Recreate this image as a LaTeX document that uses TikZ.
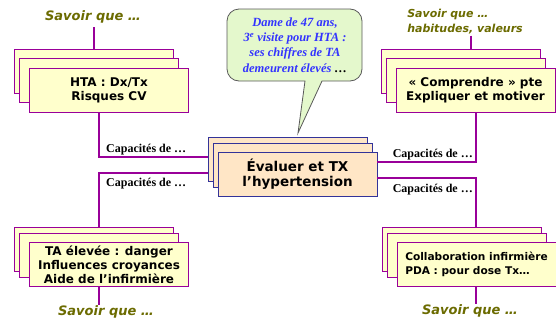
\documentclass[tikz,border=0pt]{standalone}
\usepackage{fontspec}
\setmainfont{Liberation Serif}
\newfontfamily\sansbox{DejaVu Sans}

\definecolor{lienviolet}{HTML}{990099}
\definecolor{fondjaune}{HTML}{FFFFCC}
\definecolor{fondpeche}{HTML}{FFE6C6}
\definecolor{bordbleu}{HTML}{333399}
\definecolor{texteolive}{HTML}{6B6B00}
\definecolor{fondbulle}{HTML}{E4F8CC}
\definecolor{textebleu}{HTML}{3333FF}

\tikzset{
  lien/.style={lienviolet, line width=2.2pt},
  pile/.style={draw=lienviolet, fill=fondjaune, line width=0.9pt,
    minimum width=159pt, minimum height=44pt, inner sep=2pt},
  pilecentre/.style={pile, draw=bordbleu, fill=fondpeche},
  boxtxt/.style={font=\sansbox\bfseries\fontsize{12}{14}\selectfont, align=center},
  savoir/.style={font=\sansbox\bfseries\itshape\fontsize{13}{15}\selectfont,
    text=texteolive, inner sep=1pt},
  capa/.style={font=\bfseries\fontsize{12}{13}\selectfont, inner sep=1pt},
}

\begin{document}
\begin{tikzpicture}[x=1pt, y=-1pt]
    \useasboundingbox (0,0) rectangle (556,322);

    % piles de fiches : deux fiches derriere chaque fiche de texte
    \foreach \nm/\cx/\cy/\ya/\yb in {hta/109/90.5/19/10, ta/109/264.5/15/9,
        comp/475.5/90.5/19/10, collab/476.5/264.5/15/9} {
        \node[pile] (\nm-3) at (\cx-15, \cy-\ya) {};
        \node[pile] (\nm-2) at (\cx-10, \cy-\yb) {};
    }
    \node[pile, boxtxt] (hta) at (109,90.5) {HTA : Dx/Tx\\Risques CV};
    \node[pile, boxtxt] (ta) at (109,264.5)
        {TA élevée : danger\\Influences croyances\\Aide de l’infirmière};
    \node[pile, boxtxt] (comp) at (475.5,90.5)
        {« Comprendre » pte\\Expliquer et motiver};
    \node[pile, boxtxt, align=left, font=\sansbox\bfseries\fontsize{10.6}{14}\selectfont]
        (collab) at (476.5,264.5) {Collaboration infirmière\\PDA : pour dose Tx…};

    % pile du centre
    \node[pilecentre] (eval-3) at (287.5,159.5) {};
    \node[pilecentre] (eval-2) at (292.5,165.5) {};
    \node[pilecentre, boxtxt, font=\sansbox\bfseries\fontsize{13.5}{15}\selectfont]
        (eval) at (297.5,174.5) {Évaluer et TX\\l’hypertension};

    % bulle
    \filldraw[draw=gray!70!black, fill=fondbulle, line width=0.8pt]
        (305,81) -- (298,133) -- (322,81) [rounded corners=12pt] -- (362,81)
        -- (362,9) -- (227,9) -- (227,81) [sharp corners] -- cycle;
    \node[font=\bfseries\itshape\fontsize{12.5}{15.3}\selectfont, text=textebleu,
        align=center] (bulle) at (295,45)
        {Dame de 47 ans,\\3\textsuperscript{e} visite pour HTA :\\ses chiffres de TA\\demeurent élevés \textcolor{black}{…}};

    % liens vers le centre
    \coordinate (g1) at (99,157);
    \coordinate (g2) at (99,173);
    \coordinate (d1) at (476,162);
    \coordinate (d2) at (476,178);
    \draw[lien] (hta.south -| g1) |- (eval-3.west |- g1);
    \draw[lien] (ta-3.north -| g2) |- (eval-3.west |- g2);
    \draw[lien] (comp.south -| d1) |- (eval.east |- d1);
    \draw[lien] (collab-3.north -| d2) |- (eval.east |- d2);

    \node[capa, anchor=base west] (c1) at ([shift={(6,-4.5)}]g1) {Capacités de …};
    \node[capa, anchor=base west] (c2) at ([shift={(6,13.5)}]g2) {Capacités de …};
    \node[capa, anchor=base east] (c3) at ([shift={(-2,-4.5)}]d1) {Capacités de …};
    \node[capa, anchor=base east] (c4) at ([shift={(-2,14.5)}]d2) {Capacités de …};

    % savoir que ...
    \node[savoir] (sv1) at (93,17) {Savoir que …};
    \node[savoir, align=left, font=\sansbox\bfseries\itshape\fontsize{11}{15}\selectfont]
        (sv2) at (465,22) {Savoir que …\\habitudes, valeurs};
    \node[savoir] (sv3) at (106,312) {Savoir que …};
    \node[savoir] (sv4) at (470,311) {Savoir que …};

    \draw[lien] ([shift={(1,3)}]sv1.south) -- ([xshift=1pt]sv1.south |- hta-3.north);
    \draw[lien] ([xshift=6pt]sv2.south) -- ([xshift=6pt]sv2.south |- comp-3.north);
    \draw[lien] (ta.south -| g2) -- (sv3.north -| g2);
    \draw[lien] (collab.south -| d2) -- (sv4.north -| d2);
\end{tikzpicture}
\end{document}
